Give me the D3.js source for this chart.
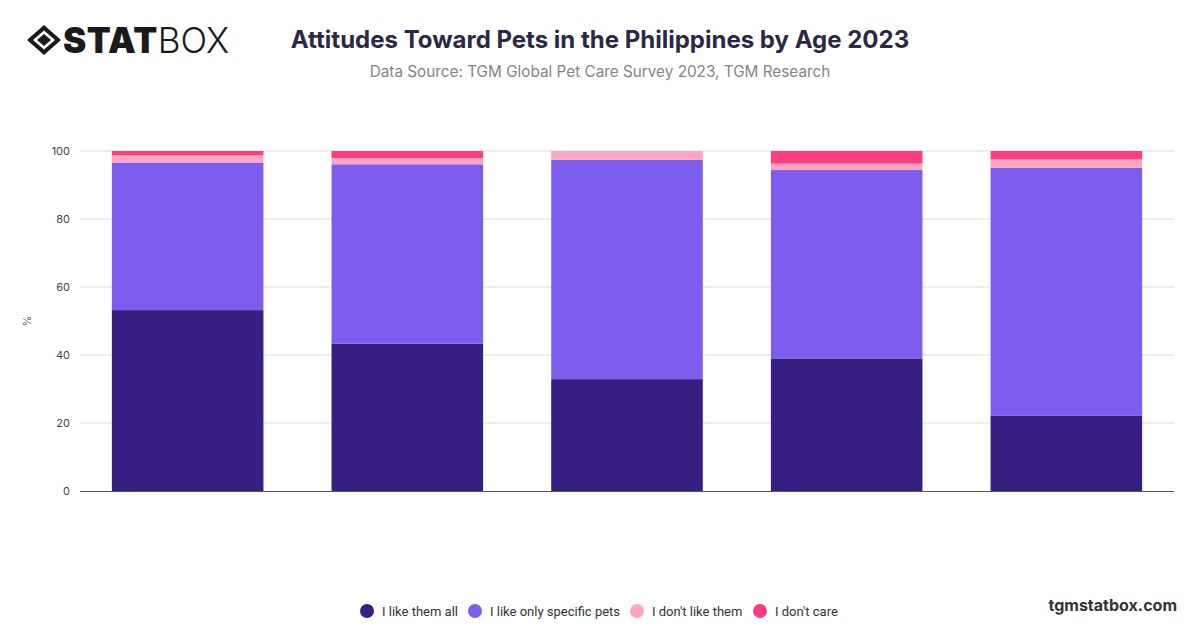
<!DOCTYPE html>
<html>
<head>
<meta charset="utf-8">
<script src="https://cdn.jsdelivr.net/npm/d3@7"></script>
<style>
  body { margin: 0; background: #fff; }
  svg { display: block; font-family: Inter, "Noto Sans", sans-serif; }
</style>
</head>
<body>
<div id="chart"></div>
<script>
// age groups (not shown as tick labels in the original)
const ageGroups = ['18-24', '25-34', '35-44', '45-54', '55+']
const seriesNames = ['I like them all', 'I like only specific pets', "I don't like them", "I don't care"]
// values in %
const likeAll = [53.2, 43.3, 32.9, 39.0, 22.1]
const likeSpecific = [43.4, 52.8, 64.5, 55.4, 73.0]
const dontLike = [2.2, 1.8, 2.6, 1.9, 2.5]
const dontCare = [1.2, 2.1, 0.0, 3.7, 2.4]
const yTicks = [0, 20, 40, 60, 80, 100]
const colors = ['#371e83', '#7c5ded', '#ffa5c4', '#ff3d80']

const W = 1200, H = 628
const svg = d3.select('#chart').append('svg')
  .attr('width', W).attr('height', H)

// logo
const logo = svg.append('g').attr('transform', 'translate(27,25)')
logo.append('path')
  .attr('d', 'M17,0 L34,15 L17,30 L0,15 Z M17,5.5 L28,15 L17,24.5 L6,15 Z')
  .attr('fill', '#1a1a1a').attr('fill-rule', 'evenodd')
logo.append('path')
  .attr('d', 'M17,9 L24,15 L17,21 L10,15 Z')
  .attr('fill', '#1a1a1a')
logo.append('text').attr('x', 36).attr('y', 28)
  .style('font-family', 'Inter, sans-serif').style('font-weight', 900)
  .style('font-size', '35px').attr('fill', '#1a1a1a')
  .style('letter-spacing', '0.5px')
  .text('STAT')
  .append('tspan').style('font-weight', 300).style('letter-spacing', '0px').text('BOX')

// title
svg.append('text').attr('x', 600).attr('y', 48).attr('text-anchor', 'middle')
  .style('font-size', '24px').style('font-weight', 700).attr('fill', '#2b2847')
  .text('Attitudes Toward Pets in the Philippines by Age 2023')
svg.append('text').attr('x', 600).attr('y', 77).attr('text-anchor', 'middle')
  .style('font-size', '15.3px').attr('fill', '#858585')
  .text('Data Source: TGM Global Pet Care Survey 2023, TGM Research')

const x = d3.scaleBand().domain(ageGroups).range([80, 1174])
  .paddingInner(0.31).paddingOuter(0.145)
const y = d3.scaleLinear().domain([0, 100]).range([491, 151])

// grid
svg.append('g').selectAll('line').data(yTicks.slice(1)).join('line')
  .attr('x1', 80).attr('x2', 1174)
  .attr('y1', d => y(d)).attr('y2', d => y(d))
  .attr('stroke', '#dcdcdc').attr('stroke-width', 1)

const yAxis = svg.append('g').attr('transform', 'translate(80,0)')
  .call(d3.axisLeft(y).tickValues(yTicks).tickSize(0).tickPadding(10))
yAxis.select('.domain').remove()
yAxis.selectAll('text').style('font-size', '11px').attr('fill', '#444')
  .style('font-family', 'Inter, sans-serif')

svg.append('text').attr('transform', 'translate(31,321) rotate(-90)')
  .attr('text-anchor', 'middle').style('font-size', '11px').attr('fill', '#666')
  .text('%')

// stacked bars
const rows = ageGroups.map((g, i) => ({
  group: g,
  [seriesNames[0]]: likeAll[i],
  [seriesNames[1]]: likeSpecific[i],
  [seriesNames[2]]: dontLike[i],
  [seriesNames[3]]: dontCare[i]
}))
const stacked = d3.stack().keys(seriesNames)(rows)

svg.append('g').selectAll('g').data(stacked).join('g')
  .attr('fill', (d, i) => colors[i])
  .selectAll('rect').data(d => d).join('rect')
  .attr('x', d => x(d.data.group))
  .attr('width', x.bandwidth())
  .attr('y', d => y(d[1]))
  .attr('height', d => Math.max(0, y(d[0]) - y(d[1])))

// baseline axis
const xAxis = svg.append('g').attr('transform', 'translate(0,491)')
  .call(d3.axisBottom(x).tickSize(0).tickFormat(''))
xAxis.select('.domain').attr('stroke', '#555').attr('d', 'M80,0.5H1174')

// legend
const legendX = [367, 475, 637, 760]
const legend = svg.append('g').selectAll('g').data(seriesNames).join('g')
  .attr('transform', (d, i) => `translate(${legendX[i]},611)`)
legend.append('circle').attr('r', 7).attr('fill', (d, i) => colors[i])
legend.append('text').attr('x', 15).attr('y', 4.5)
  .style('font-size', '13px').style('font-family', 'Roboto, sans-serif')
  .attr('fill', '#333').text(d => d)

svg.append('text').attr('x', 1177).attr('y', 611).attr('text-anchor', 'end')
  .style('font-size', '16px').style('font-weight', 700).attr('fill', '#333')
  .text('tgmstatbox.com')
</script>
</body>
</html>
